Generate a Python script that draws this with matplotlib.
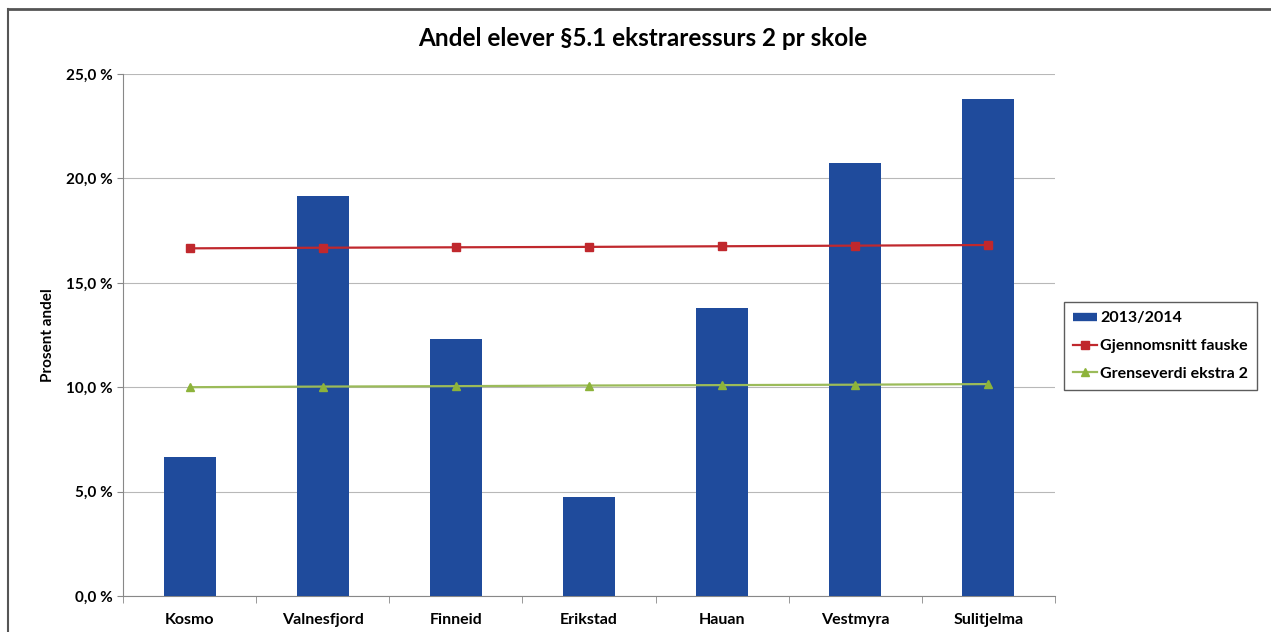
import matplotlib
matplotlib.use("Agg")
import matplotlib.pyplot as plt
from matplotlib.lines import Line2D

schools = ["Kosmo", "Valnesfjord", "Finneid", "Erikstad", "Hauan", "Vestmyra", "Sulitjelma"]
andel_2013 = [6.66, 19.16, 12.31, 4.74, 13.79, 20.74, 23.80]
gjennomsnitt = [16.65, 16.68, 16.70, 16.72, 16.75, 16.78, 16.81]
grenseverdi = [10.00, 10.03, 10.05, 10.08, 10.10, 10.12, 10.15]
yticks = [0, 5, 10, 15, 20, 25]

plt.rcParams['font.family'] = ['Lato', 'DejaVu Sans']

fig = plt.figure(figsize=(12.71, 6.32), dpi=100)
ax = fig.add_axes([123/1271, 1-596/632, (1055-123)/1271, (596-74)/632])

x = list(range(len(schools)))
bars = ax.bar(x, andel_2013, width=0.39, color="#1f4b9c", label="2013/2014", zorder=3)
l1, = ax.plot(x, gjennomsnitt, color="#c0282d", marker="s", markersize=6, lw=1.6,
              label="Gjennomsnitt fauske", zorder=4)
l2, = ax.plot(x, grenseverdi, color="#9bbb59", marker="^", markersize=6, lw=1.6,
              markerfacecolor="#8db33a", markeredgecolor="#8db33a",
              label="Grenseverdi ekstra 2", zorder=4)

ax.set_xlim(-0.5, len(schools) - 0.5)
ax.set_ylim(0, 25)
ax.set_yticks(yticks)
ax.set_yticklabels([f"{v:.1f} %".replace(".", ",") for v in yticks], fontsize=11)
ax.yaxis.grid(True, color="#b8b8b8", lw=0.8, zorder=0)
ax.set_xticks(x)
ax.set_xticklabels(schools, fontsize=11.5, fontweight="bold")
ax.tick_params(axis="x", length=0, pad=12)
ax.set_xticks([i - 0.5 for i in range(len(schools) + 1)], minor=True)
ax.tick_params(axis="x", which="minor", length=5, color="#888888")
ax.tick_params(axis="y", length=4, color="#888888")
for lbl in ax.get_yticklabels():
    lbl.set_fontweight("bold")
for s in ["top", "right"]:
    ax.spines[s].set_visible(False)
ax.spines["left"].set_color("#888888")
ax.spines["bottom"].set_color("#888888")

ax.set_ylabel("Prosent andel", fontsize=11, fontweight="bold", labelpad=8)
fig.text(643/1271, 1 - 38/632, "Andel elever §5.1 ekstraressurs 2 pr skole",
         ha="center", va="center", fontsize=17.5, fontweight="bold")

bar_handle = Line2D([], [], color="#1f4b9c", lw=6, solid_capstyle="butt")
leg = ax.legend([bar_handle, l1, l2], ["2013/2014", "Gjennomsnitt fauske", "Grenseverdi ekstra 2"],
                loc="center left", bbox_to_anchor=(1064/1271, 1-346/632),
                bbox_transform=fig.transFigure, frameon=True, fancybox=False,
                fontsize=11.5, handlelength=1.5, borderpad=0.55, labelspacing=0.85,
                handletextpad=0.2, borderaxespad=0)
leg.get_frame().set_edgecolor("#333333")
leg.get_frame().set_linewidth(1.0)
for t in leg.get_texts():
    t.set_fontweight("bold")

# chart border (scanned frame)
fig.add_artist(Line2D([8/1271, 1], [1-9/632, 1-9/632], transform=fig.transFigure,
                      color="#555555", lw=2))
fig.add_artist(Line2D([8/1271, 8/1271], [0, 1-9/632], transform=fig.transFigure,
                      color="#555555", lw=1.5))

fig.savefig("out.png", dpi=100)
